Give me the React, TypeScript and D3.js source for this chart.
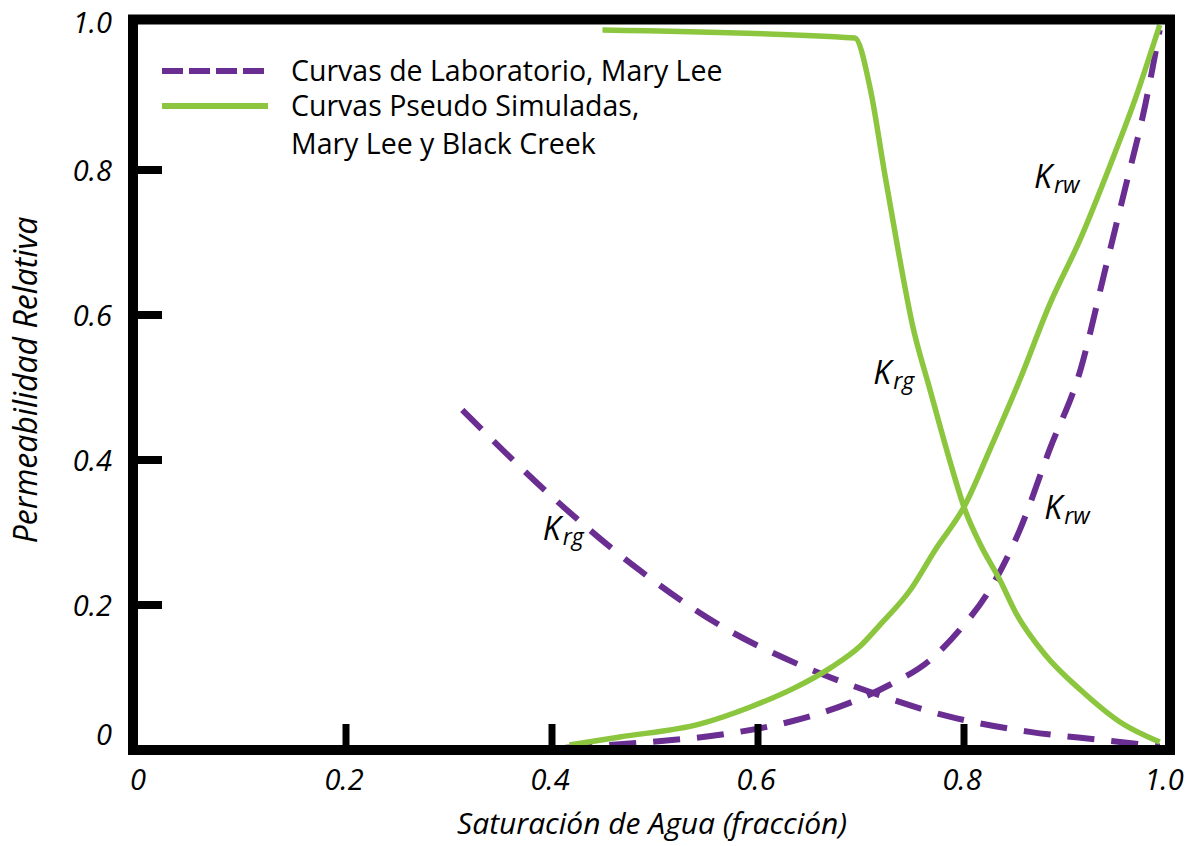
import React from "react";
import * as d3 from "d3";

// Saturación de agua (fracción) vs. permeabilidad relativa
const xTicks = [0, 0.2, 0.4, 0.6, 0.8, 1.0];
const xTickLabels = ["0", "0.2", "0.4", "0.6", "0.8", "1.0"];
const yTicks = [0, 0.2, 0.4, 0.6, 0.8, 1.0];
const yTickLabels = ["0", "0.2", "0.4", "0.6", "0.8", "1.0"];

// Curvas pseudo simuladas (Mary Lee y Black Creek)
const pseudoKrg: [number, number][] = [
  [0.449, 0.993], [0.694, 0.982], [0.709, 0.912], [0.723, 0.795],
  [0.736, 0.69], [0.75, 0.586], [0.767, 0.497], [0.786, 0.4],
  [0.801, 0.331], [0.816, 0.283], [0.835, 0.234], [0.85, 0.19],
  [0.879, 0.131], [0.913, 0.083], [0.951, 0.039], [0.99, 0.011],
];
const pseudoKrw: [number, number][] = [
  [0.417, 0.007], [0.466, 0.018], [0.544, 0.036], [0.592, 0.059],
  [0.636, 0.086], [0.67, 0.113], [0.699, 0.143], [0.718, 0.172],
  [0.748, 0.221], [0.772, 0.276], [0.801, 0.338], [0.825, 0.414],
  [0.854, 0.51], [0.883, 0.614], [0.913, 0.705], [0.942, 0.807],
  [0.966, 0.897], [0.99, 1.0],
];

// Curvas de laboratorio (Mary Lee)
const labKrg: [number, number][] = [
  [0.313, 0.469], [0.398, 0.352], [0.485, 0.248], [0.563, 0.172],
  [0.641, 0.117], [0.709, 0.08], [0.786, 0.046], [0.864, 0.025],
  [0.932, 0.014], [0.99, 0.005],
];
const labKrw: [number, number][] = [
  [0.413, 0.003], [0.485, 0.01], [0.563, 0.021], [0.631, 0.039],
  [0.689, 0.065], [0.728, 0.09], [0.767, 0.124], [0.796, 0.166],
  [0.825, 0.221], [0.854, 0.303], [0.883, 0.414], [0.913, 0.524],
  [0.937, 0.662], [0.956, 0.772], [0.976, 0.89], [0.99, 0.993],
];

const curveLabels = [
  { x: 0.712, y: 0.505, sub: "rg" },
  { x: 0.868, y: 0.775, sub: "rw" },
  { x: 0.391, y: 0.29, sub: "rg" },
  { x: 0.878, y: 0.318, sub: "rw" },
];

const legendItems = [
  { lines: ["Curvas de Laboratorio, Mary Lee"], dashed: true },
  { lines: ["Curvas Pseudo Simuladas,", "Mary Lee y Black Creek"], dashed: false },
];

const PURPLE = "#6a2d91";
const GREEN = "#8cc63f";
const FONT = "'Open Sans', sans-serif";

export default function App() {
  const W = 1201;
  const H = 846;
  const x = d3.scaleLinear().domain([0, 1]).range([140, 1170]);
  const y = d3.scaleLinear().domain([0, 1]).range([750, 25]);

  const line = d3
    .line<[number, number]>()
    .x((d) => x(d[0]))
    .y((d) => y(d[1]))
    .curve(d3.curveMonotoneX);

  const frameL = x(0) - 7;
  const frameR = x(1);
  const frameT = 19.5;
  const frameB = y(0);

  return (
    <svg width={W} height={H} style={{ display: "block", position: "absolute", left: 0, top: 0 }}>
      <rect width={W} height={H} fill="#fff" />

      {/* curves */}
      <path d={line(labKrg) || ""} fill="none" stroke={PURPLE} strokeWidth={6} strokeDasharray="27 17" />
      <path d={line(labKrw) || ""} fill="none" stroke={PURPLE} strokeWidth={6} strokeDasharray="27 17" />
      <path d={line(pseudoKrg) || ""} fill="none" stroke={GREEN} strokeWidth={5.5} strokeLinejoin="round" />
      <path d={line(pseudoKrw) || ""} fill="none" stroke={GREEN} strokeWidth={5.5} />

      {/* frame */}
      <rect
        x={frameL}
        y={frameT}
        width={frameR - frameL}
        height={frameB - frameT}
        fill="none"
        stroke="#000"
        strokeWidth={10}
      />

      {/* ticks */}
      {xTicks
        .filter((t) => t > 0 && t < 1)
        .map((t) => (
          <line key={"xt" + t} x1={x(t)} x2={x(t)} y1={frameB - 5} y2={frameB - 26} stroke="#000" strokeWidth={7} />
        ))}
      {yTicks
        .filter((t) => t > 0 && t < 1)
        .map((t) => (
          <line key={"yt" + t} x1={frameL + 5} x2={frameL + 29} y1={y(t)} y2={y(t)} stroke="#000" strokeWidth={8} />
        ))}

      {/* tick labels */}
      {xTicks.map((t, i) => (
        <text
          key={"xl" + t}
          x={x(t) - (t === 1 ? 6 : 2)}
          y={790}
          textAnchor="middle"
          fontFamily={FONT}
          fontStyle="italic"
          fontSize={29}
          fill="#000"
        >
          {xTickLabels[i]}
        </text>
      ))}
      {yTicks.map((t, i) => (
        <text
          key={"yl" + t}
          x={112}
          y={y(t) + (t === 0 ? -5 : t === 1 ? 8 : 11)}
          textAnchor="end"
          fontFamily={FONT}
          fontStyle="italic"
          fontSize={29}
          fill="#000"
        >
          {yTickLabels[i]}
        </text>
      ))}

      {/* axis titles */}
      <text
        x={652}
        y={834}
        textAnchor="middle"
        fontFamily={FONT}
        fontStyle="italic"
        fontSize={30}
        fill="#000"
      >
        Saturación de Agua (fracción)
      </text>
      <text
        transform={`translate(37, 380) rotate(-90)`}
        textAnchor="middle"
        fontFamily={FONT}
        fontStyle="italic"
        fontSize={32}
        fill="#000"
      >
        Permeabilidad Relativa
      </text>

      {/* curve labels */}
      {curveLabels.map((c, i) => (
        <text key={"cl" + i} x={x(c.x)} y={y(c.y)} fontFamily={FONT} fontStyle="italic" fill="#000">
          <tspan fontSize={32}>K</tspan>
          <tspan fontSize={23} dx={2} dy={5}>
            {c.sub}
          </tspan>
        </text>
      ))}

      {/* legend */}
      {legendItems.map((item, i) => {
        const ly = i === 0 ? 71 : 106;
        return (
          <g key={"lg" + i}>
            <line
              x1={162}
              x2={268}
              y1={ly}
              y2={ly}
              stroke={item.dashed ? PURPLE : GREEN}
              strokeWidth={6}
              strokeDasharray={item.dashed ? "21 6" : undefined}
            />
            {item.lines.map((s, j) => (
              <text key={j} x={291} y={ly + 10 + j * 38} fontFamily={FONT} fontSize={28.5} fill="#000">
                {s}
              </text>
            ))}
          </g>
        );
      })}
    </svg>
  );
}
